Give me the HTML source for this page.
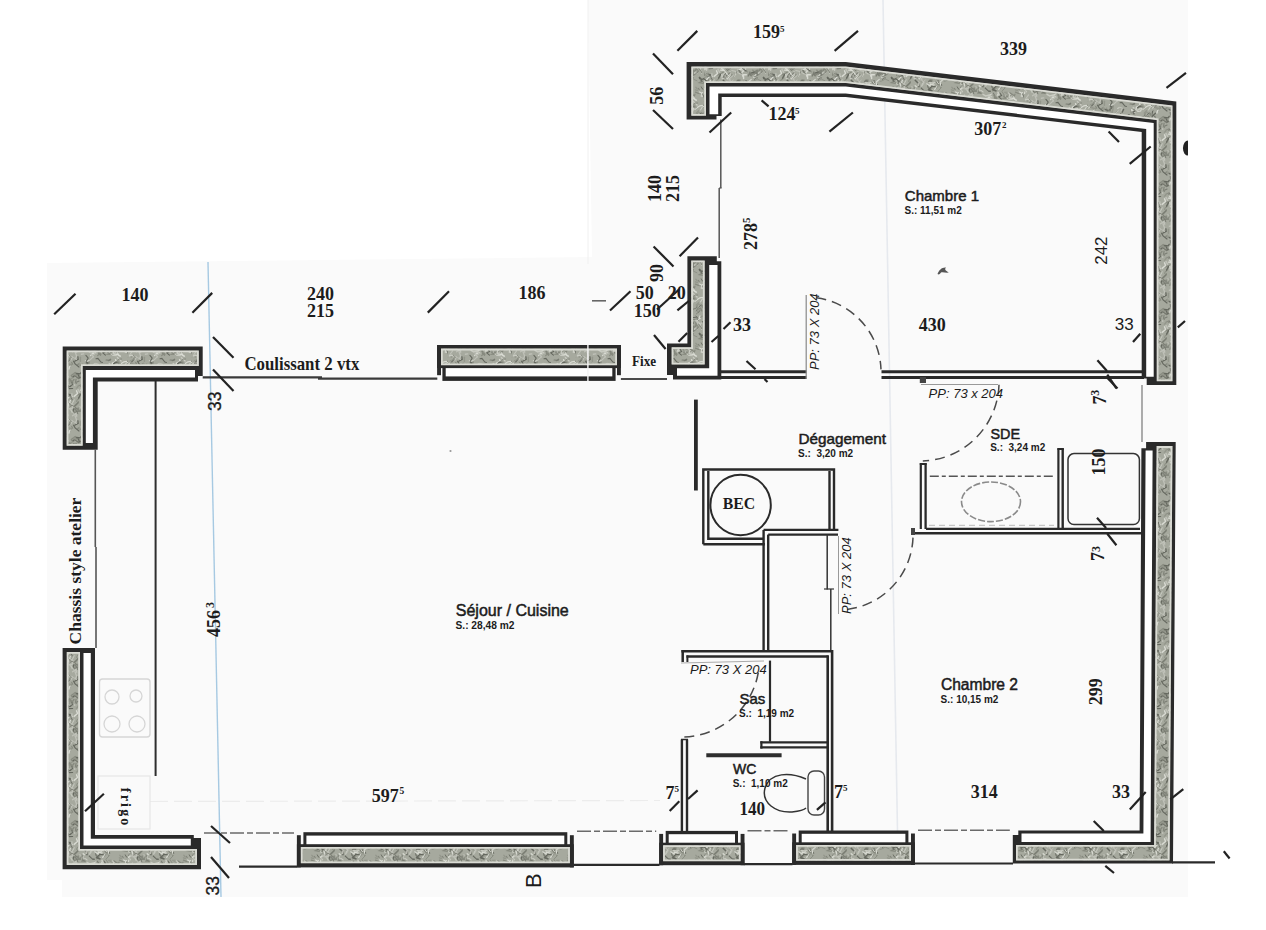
<!DOCTYPE html>
<html><head><meta charset="utf-8"><title>Plan</title>
<style>html,body{margin:0;padding:0;background:#fff;width:1266px;height:930px;overflow:hidden}svg{display:block;font-family:"Liberation Sans",sans-serif}</style>
</head><body>
<svg width="1266" height="930" viewBox="0 0 1266 930"><defs><pattern id="mot" patternUnits="userSpaceOnUse" width="64" height="64"><rect width="64" height="64" fill="#a6a99e"/><polyline points="19.4,8 15.8,10.5 12.5,11.2 15.8,8.9" fill="none" stroke="#878a7f" stroke-width="1.1" stroke-linecap="round"/><polyline points="2.6,4 -0.9,4.5 2.7,5.6" fill="none" stroke="#c9cbc2" stroke-width="1.5" stroke-linecap="round"/><polyline points="36.1,24.2 32.5,27" fill="none" stroke="#93968b" stroke-width="1.1" stroke-linecap="round"/><polyline points="33.7,35.7 36.2,33.1 36.9,34.2 35.8,34.6" fill="none" stroke="#878a7f" stroke-width="1.2" stroke-linecap="round"/><polyline points="38.9,30.8 38.3,29.3 39,28.9 37.4,31.3" fill="none" stroke="#d8dad2" stroke-width="1.3" stroke-linecap="round"/><polyline points="3.4,17.8 6.4,19.7 4.7,23.5" fill="none" stroke="#878a7f" stroke-width="1.2" stroke-linecap="round"/><polyline points="8.9,20.6 8.3,24.3 4.9,24.7" fill="none" stroke="#bfc1b8" stroke-width="1.4" stroke-linecap="round"/><polyline points="18.7,43.9 18.7,46.3 15.2,43 13.4,44.6" fill="none" stroke="#878a7f" stroke-width="0.8" stroke-linecap="round"/><polyline points="44.3,40.7 46.9,39 46,40.3 42.1,40" fill="none" stroke="#7a7d73" stroke-width="1.2" stroke-linecap="round"/><polyline points="30.6,12.4 27.6,10.4 26.7,13.4" fill="none" stroke="#878a7f" stroke-width="0.9" stroke-linecap="round"/><polyline points="24.5,16.3 27.1,19.2" fill="none" stroke="#93968b" stroke-width="1.3" stroke-linecap="round"/><polyline points="63.1,43.1 66.8,40.3 64.2,38.1" fill="none" stroke="#7a7d73" stroke-width="0.8" stroke-linecap="round"/><polyline points="52.9,10 48.9,9.4 47.8,9.9" fill="none" stroke="#7a7d73" stroke-width="1.3" stroke-linecap="round"/><polyline points="32,38.8 33.9,38.4 36.9,42 38.4,42.5" fill="none" stroke="#65685f" stroke-width="1.1" stroke-linecap="round"/><polyline points="4.8,39.9 2.4,43.7" fill="none" stroke="#65685f" stroke-width="0.9" stroke-linecap="round"/><polyline points="20.4,1.5 21,1.8" fill="none" stroke="#93968b" stroke-width="1.2" stroke-linecap="round"/><polyline points="2.6,11.7 -0.2,9.7 -1.4,8.7" fill="none" stroke="#878a7f" stroke-width="0.9" stroke-linecap="round"/><polyline points="30.2,62.5 30.1,59.2 26.9,58" fill="none" stroke="#93968b" stroke-width="1.1" stroke-linecap="round"/><polyline points="43.7,32.1 47.3,32.3" fill="none" stroke="#7a7d73" stroke-width="1.3" stroke-linecap="round"/><polyline points="58.3,48 62.2,50.9 63.7,49" fill="none" stroke="#93968b" stroke-width="1.4" stroke-linecap="round"/><polyline points="21.5,12.7 23.7,11.3 21.5,13.8 25.4,16.7" fill="none" stroke="#bfc1b8" stroke-width="1.0" stroke-linecap="round"/><polyline points="24.4,51 24.6,49.9" fill="none" stroke="#878a7f" stroke-width="1.5" stroke-linecap="round"/><polyline points="50.1,29.2 51.7,32.8" fill="none" stroke="#65685f" stroke-width="1.4" stroke-linecap="round"/><polyline points="45.7,21.1 42.4,17.9 42.1,16.6" fill="none" stroke="#65685f" stroke-width="1.2" stroke-linecap="round"/><polyline points="57.4,53.5 60.7,52.2 61.8,54.9" fill="none" stroke="#878a7f" stroke-width="1.4" stroke-linecap="round"/><polyline points="49.6,47.5 52.7,47 53.8,43.7" fill="none" stroke="#d8dad2" stroke-width="1.1" stroke-linecap="round"/><polyline points="24.5,60.5 21.8,64.4 18,65.2 17.7,66.4" fill="none" stroke="#c9cbc2" stroke-width="1.4" stroke-linecap="round"/><polyline points="62.7,41.4 59.9,41.8 56.1,44.2" fill="none" stroke="#d8dad2" stroke-width="1.3" stroke-linecap="round"/><polyline points="32.8,59.6 36.6,57.2 39.6,53.4" fill="none" stroke="#7a7d73" stroke-width="1.0" stroke-linecap="round"/><polyline points="13.9,36.7 14.2,39.4 10.7,41.3" fill="none" stroke="#65685f" stroke-width="1.3" stroke-linecap="round"/><polyline points="51.8,32.1 48.8,29.3 48.9,32.3 51.1,33.2" fill="none" stroke="#bfc1b8" stroke-width="1.4" stroke-linecap="round"/><polyline points="9.4,29.3 6.3,25.7 7.8,26 7.7,28.2" fill="none" stroke="#c9cbc2" stroke-width="0.8" stroke-linecap="round"/><polyline points="10.6,0.8 10.7,1.3" fill="none" stroke="#bfc1b8" stroke-width="1.4" stroke-linecap="round"/><polyline points="2.2,19.5 3,17.1 1.2,17.2 3.7,17.2" fill="none" stroke="#7a7d73" stroke-width="1.3" stroke-linecap="round"/><polyline points="55.9,60.2 59.2,63.3 56.9,62.9" fill="none" stroke="#65685f" stroke-width="0.9" stroke-linecap="round"/><polyline points="27.2,2.8 26.6,0.5" fill="none" stroke="#93968b" stroke-width="1.3" stroke-linecap="round"/><polyline points="57.2,8.2 58.4,7.1 56.4,4.2 56.1,6.2" fill="none" stroke="#878a7f" stroke-width="1.1" stroke-linecap="round"/><polyline points="30.2,63.3 27.5,62.8" fill="none" stroke="#c9cbc2" stroke-width="1.1" stroke-linecap="round"/><polyline points="25.8,21.5 27.6,17.7" fill="none" stroke="#c9cbc2" stroke-width="1.1" stroke-linecap="round"/><polyline points="44.4,23.4 45.4,23.5 41.9,27.3 44.2,31.1" fill="none" stroke="#878a7f" stroke-width="0.9" stroke-linecap="round"/><polyline points="15.9,57.8 14.1,54.8" fill="none" stroke="#65685f" stroke-width="1.4" stroke-linecap="round"/><polyline points="42.6,60.4 39.8,63.8 40.4,65.4" fill="none" stroke="#878a7f" stroke-width="1.0" stroke-linecap="round"/><polyline points="50.8,10.1 48.9,6.2" fill="none" stroke="#878a7f" stroke-width="1.4" stroke-linecap="round"/><polyline points="3.5,54.5 1.6,51.5" fill="none" stroke="#878a7f" stroke-width="1.0" stroke-linecap="round"/><polyline points="34.5,59.2 35.5,55.5 37.2,59" fill="none" stroke="#7a7d73" stroke-width="1.0" stroke-linecap="round"/><polyline points="10,59.5 8.4,61.6 6.7,61.6 4.1,60.4" fill="none" stroke="#878a7f" stroke-width="1.5" stroke-linecap="round"/><polyline points="0.4,-0.8 0.8,-3.3 0.6,0.2 -2.5,2.8" fill="none" stroke="#65685f" stroke-width="1.3" stroke-linecap="round"/><polyline points="34,56.7 32.5,54.4 30.3,52 33.4,53.8" fill="none" stroke="#7a7d73" stroke-width="1.1" stroke-linecap="round"/><polyline points="20.9,1.6 17.1,2.6" fill="none" stroke="#93968b" stroke-width="1.1" stroke-linecap="round"/><polyline points="1.7,41.9 4.6,43.3 2.9,41.2" fill="none" stroke="#93968b" stroke-width="0.8" stroke-linecap="round"/><polyline points="10.2,15.8 8.3,19.5" fill="none" stroke="#c9cbc2" stroke-width="1.0" stroke-linecap="round"/><polyline points="0.3,56.2 -0.9,52.2" fill="none" stroke="#65685f" stroke-width="0.9" stroke-linecap="round"/><polyline points="16.4,41.3 16.4,37.3" fill="none" stroke="#93968b" stroke-width="1.4" stroke-linecap="round"/><polyline points="7.5,36.7 3.7,35.2 1.5,35.8" fill="none" stroke="#c9cbc2" stroke-width="1.4" stroke-linecap="round"/><polyline points="8.2,56.9 7.4,55.5 11.2,52.7 13,53.9" fill="none" stroke="#878a7f" stroke-width="1.4" stroke-linecap="round"/><polyline points="45.2,31.9 47.1,34.4 44.2,34.5" fill="none" stroke="#c9cbc2" stroke-width="1.2" stroke-linecap="round"/><polyline points="51.7,-0.9 52.3,2.2 53.8,3.8 51.6,-0" fill="none" stroke="#7a7d73" stroke-width="1.2" stroke-linecap="round"/><polyline points="61.3,22.9 61.8,23.9 62.8,25.3" fill="none" stroke="#65685f" stroke-width="1.0" stroke-linecap="round"/><polyline points="28.2,2.6 31.3,-0.6 31.5,1.3 31.3,3.8" fill="none" stroke="#bfc1b8" stroke-width="1.0" stroke-linecap="round"/><polyline points="46.1,11.5 47.3,11.2 50.1,7.8 53.4,6.1" fill="none" stroke="#878a7f" stroke-width="1.2" stroke-linecap="round"/><polyline points="40.4,3.1 39.1,4.3" fill="none" stroke="#d8dad2" stroke-width="1.0" stroke-linecap="round"/><polyline points="35.5,-1.2 35.4,2.6" fill="none" stroke="#878a7f" stroke-width="1.3" stroke-linecap="round"/><polyline points="42.6,17.2 40.9,16.9 43,20.9 43.4,19.4" fill="none" stroke="#878a7f" stroke-width="1.5" stroke-linecap="round"/><polyline points="-0.8,28.3 2.9,27.9 1,25.6 4.6,23.3" fill="none" stroke="#c9cbc2" stroke-width="0.9" stroke-linecap="round"/><polyline points="47.3,15.3 44.4,17.8 44.5,20.9" fill="none" stroke="#d8dad2" stroke-width="1.1" stroke-linecap="round"/><polyline points="30.9,55.8 27.1,51.9 27,51.5" fill="none" stroke="#93968b" stroke-width="1.3" stroke-linecap="round"/><polyline points="25.5,22.8 28.2,18.8" fill="none" stroke="#bfc1b8" stroke-width="1.0" stroke-linecap="round"/><polyline points="24.3,60 26,63.2" fill="none" stroke="#93968b" stroke-width="1.0" stroke-linecap="round"/><polyline points="2.3,23.8 -1.1,27.2 0.9,30 -0.8,26.4" fill="none" stroke="#d8dad2" stroke-width="1.0" stroke-linecap="round"/><polyline points="59.7,14.5 59.2,13 61.4,15.3" fill="none" stroke="#65685f" stroke-width="1.4" stroke-linecap="round"/><polyline points="51.6,39.6 52,41.4 48.4,43.3 48,45.3" fill="none" stroke="#d8dad2" stroke-width="1.4" stroke-linecap="round"/><polyline points="30,58.2 27.1,58 25.8,56.3 27.7,60.2" fill="none" stroke="#93968b" stroke-width="1.1" stroke-linecap="round"/><polyline points="13.8,29.9 12.9,27.2 10.2,24.9 13.4,24.9" fill="none" stroke="#7a7d73" stroke-width="1.1" stroke-linecap="round"/><polyline points="20,48.1 17.1,45.6 13.8,44.4" fill="none" stroke="#878a7f" stroke-width="1.0" stroke-linecap="round"/><polyline points="22.3,51.4 25.4,53.4" fill="none" stroke="#65685f" stroke-width="1.1" stroke-linecap="round"/><polyline points="47.2,11.9 45.9,8.4 44.2,12.1" fill="none" stroke="#7a7d73" stroke-width="1.3" stroke-linecap="round"/><polyline points="32.9,50.2 29.7,53.3" fill="none" stroke="#65685f" stroke-width="1.1" stroke-linecap="round"/><polyline points="27.4,61 24.4,60.4" fill="none" stroke="#bfc1b8" stroke-width="1.4" stroke-linecap="round"/><polyline points="29.2,36.8 25.8,40.2" fill="none" stroke="#bfc1b8" stroke-width="1.2" stroke-linecap="round"/><polyline points="28.9,27.6 26.7,24.8" fill="none" stroke="#d8dad2" stroke-width="0.9" stroke-linecap="round"/><polyline points="52.5,44.3 49.2,46.5 45.2,43.5" fill="none" stroke="#c9cbc2" stroke-width="1.4" stroke-linecap="round"/><polyline points="40.6,18 41.6,18.3" fill="none" stroke="#65685f" stroke-width="1.3" stroke-linecap="round"/><polyline points="5.4,2.6 8.9,0.2 7,2.5 3,2.8" fill="none" stroke="#65685f" stroke-width="1.0" stroke-linecap="round"/><polyline points="18.9,53.4 18.7,51.3" fill="none" stroke="#7a7d73" stroke-width="0.8" stroke-linecap="round"/><polyline points="25.2,40.9 21.4,40.9" fill="none" stroke="#d8dad2" stroke-width="1.3" stroke-linecap="round"/><polyline points="3.4,13 6.8,10.9 3,9.6" fill="none" stroke="#65685f" stroke-width="1.1" stroke-linecap="round"/><polyline points="24.2,-1.6 26.1,-1.5 23.7,2.2" fill="none" stroke="#93968b" stroke-width="1.3" stroke-linecap="round"/><polyline points="10.8,28.7 12.9,27.1 16.5,27" fill="none" stroke="#7a7d73" stroke-width="1.4" stroke-linecap="round"/><polyline points="30,58.1 33.6,55.3" fill="none" stroke="#65685f" stroke-width="0.8" stroke-linecap="round"/><polyline points="-0.4,37.3 -4,33.8 -4.9,37" fill="none" stroke="#93968b" stroke-width="1.3" stroke-linecap="round"/><polyline points="63.8,59.5 61.4,60.7 61.6,60.4" fill="none" stroke="#93968b" stroke-width="1.3" stroke-linecap="round"/><polyline points="23,22.7 22.5,19.5 19.2,16.2" fill="none" stroke="#65685f" stroke-width="1.5" stroke-linecap="round"/><polyline points="6.2,61.6 5.2,63.8" fill="none" stroke="#93968b" stroke-width="1.4" stroke-linecap="round"/><polyline points="26.5,1.3 24.1,1.6 23.7,0.2" fill="none" stroke="#d8dad2" stroke-width="1.4" stroke-linecap="round"/><polyline points="-0,25.1 2.1,21.4 -1.6,17.9 1.8,16" fill="none" stroke="#d8dad2" stroke-width="0.8" stroke-linecap="round"/><polyline points="38,22 41.6,22.9 39.7,24.6" fill="none" stroke="#93968b" stroke-width="1.4" stroke-linecap="round"/><polyline points="17.6,45.6 21,46.7 24.5,42.9 22.4,42.7" fill="none" stroke="#65685f" stroke-width="1.5" stroke-linecap="round"/><polyline points="23.5,14.6 26,11.6 26,7.7" fill="none" stroke="#d8dad2" stroke-width="1.0" stroke-linecap="round"/><polyline points="43.7,8 42.3,6.5" fill="none" stroke="#93968b" stroke-width="1.3" stroke-linecap="round"/><polyline points="37.3,31.8 39.3,29.8 35.9,26" fill="none" stroke="#c9cbc2" stroke-width="1.2" stroke-linecap="round"/><polyline points="8.6,26.2 12.5,24.3" fill="none" stroke="#878a7f" stroke-width="0.9" stroke-linecap="round"/><polyline points="25.8,63.2 23.2,60.3 22.9,63.4" fill="none" stroke="#7a7d73" stroke-width="1.3" stroke-linecap="round"/><polyline points="53.9,41.9 56.1,40.2" fill="none" stroke="#93968b" stroke-width="1.2" stroke-linecap="round"/><polyline points="22.6,46.7 22.1,44.2" fill="none" stroke="#7a7d73" stroke-width="0.9" stroke-linecap="round"/><polyline points="56.4,36.2 52.9,34.2 50.8,34.4" fill="none" stroke="#d8dad2" stroke-width="1.4" stroke-linecap="round"/><polyline points="41.1,63.4 37.2,66.5" fill="none" stroke="#7a7d73" stroke-width="1.4" stroke-linecap="round"/><polyline points="58.3,0.7 56.2,-2.9 57,-0.3" fill="none" stroke="#7a7d73" stroke-width="1.5" stroke-linecap="round"/><polyline points="22.6,55.2 23.4,57.4 24.7,53.4" fill="none" stroke="#d8dad2" stroke-width="1.2" stroke-linecap="round"/><polyline points="38.9,12.4 37.6,8.7 41.6,5" fill="none" stroke="#d8dad2" stroke-width="1.3" stroke-linecap="round"/><polyline points="11.4,-1.2 10.7,-2.3 11.7,-5.7" fill="none" stroke="#878a7f" stroke-width="1.4" stroke-linecap="round"/><polyline points="34.2,2.2 36.5,3.5" fill="none" stroke="#7a7d73" stroke-width="1.2" stroke-linecap="round"/><polyline points="4,8.8 2.2,12.7 3.5,12.1 -0.1,14" fill="none" stroke="#93968b" stroke-width="1.1" stroke-linecap="round"/><polyline points="-0.8,48.6 0.4,47.7 -0.4,51.3" fill="none" stroke="#65685f" stroke-width="1.4" stroke-linecap="round"/><polyline points="26,52.1 26.6,51.1 28.8,48.1" fill="none" stroke="#878a7f" stroke-width="1.2" stroke-linecap="round"/><polyline points="40.3,58 40.9,61.5" fill="none" stroke="#d8dad2" stroke-width="1.2" stroke-linecap="round"/><polyline points="7.6,16.7 5,13.2 4.1,15.3 6.4,17.7" fill="none" stroke="#93968b" stroke-width="0.9" stroke-linecap="round"/><polyline points="60.2,62.4 58.8,63.2 59.9,59.9" fill="none" stroke="#d8dad2" stroke-width="1.2" stroke-linecap="round"/><polyline points="52.4,8.6 53.4,9.5" fill="none" stroke="#7a7d73" stroke-width="1.4" stroke-linecap="round"/><polyline points="10.1,12.4 13.6,9.6 12.5,6.8" fill="none" stroke="#d8dad2" stroke-width="1.4" stroke-linecap="round"/><polyline points="10.7,56.3 7,59 4,59.8 4.4,60.9" fill="none" stroke="#93968b" stroke-width="1.3" stroke-linecap="round"/><polyline points="18.3,14.5 19.6,14 19.1,10.2" fill="none" stroke="#c9cbc2" stroke-width="1.5" stroke-linecap="round"/><polyline points="28.7,27.5 30.9,27.2 28.4,26.9 25.2,24" fill="none" stroke="#65685f" stroke-width="1.1" stroke-linecap="round"/><polyline points="51,31.3 47.3,32.4 43.9,34.2 46.2,34.3" fill="none" stroke="#878a7f" stroke-width="1.3" stroke-linecap="round"/><polyline points="57.1,41.1 53.3,37.6" fill="none" stroke="#c9cbc2" stroke-width="1.3" stroke-linecap="round"/><polyline points="51.8,10.8 50.1,13.3 52.5,14.8" fill="none" stroke="#d8dad2" stroke-width="1.5" stroke-linecap="round"/><polyline points="2.3,21.2 -0.4,24.3 -2.2,26.9" fill="none" stroke="#7a7d73" stroke-width="1.0" stroke-linecap="round"/><polyline points="61.6,29.7 59.7,29.7 58.3,26 55.8,23.3" fill="none" stroke="#93968b" stroke-width="1.3" stroke-linecap="round"/><polyline points="57.1,9.1 54,9.4 55.1,8.3" fill="none" stroke="#bfc1b8" stroke-width="1.1" stroke-linecap="round"/><polyline points="32.4,43.5 30.4,43.7" fill="none" stroke="#bfc1b8" stroke-width="1.1" stroke-linecap="round"/><polyline points="50.6,15.5 51.3,14.4 53.4,13.9" fill="none" stroke="#7a7d73" stroke-width="1.2" stroke-linecap="round"/><polyline points="61.2,17.6 59.3,18.7 63.1,19.4 64.4,17.9" fill="none" stroke="#878a7f" stroke-width="1.3" stroke-linecap="round"/><polyline points="12.6,17.2 12.1,17.3 15.3,14.4 13.1,15.6" fill="none" stroke="#878a7f" stroke-width="0.8" stroke-linecap="round"/><polyline points="35.4,18 34.3,15.8 35,16.6 32.6,17.5" fill="none" stroke="#65685f" stroke-width="0.9" stroke-linecap="round"/><polyline points="-1.1,50.9 -3.9,47.7 -2.8,50.6 -0.5,49.9" fill="none" stroke="#93968b" stroke-width="1.5" stroke-linecap="round"/><polyline points="1.7,52.2 2.5,52.8 3.3,52.9" fill="none" stroke="#65685f" stroke-width="1.0" stroke-linecap="round"/><polyline points="57.6,0.9 53.8,-1.6 51.1,1.7 47.9,2.6" fill="none" stroke="#d8dad2" stroke-width="1.5" stroke-linecap="round"/><polyline points="7.4,11.2 8.5,12.3 7.9,13.3 7.9,9.8" fill="none" stroke="#d8dad2" stroke-width="0.8" stroke-linecap="round"/><polyline points="56.7,49.7 57,48.7 56.5,52 53.1,53.2" fill="none" stroke="#7a7d73" stroke-width="1.0" stroke-linecap="round"/><polyline points="4.9,13.3 1.9,16.5" fill="none" stroke="#d8dad2" stroke-width="1.5" stroke-linecap="round"/><polyline points="15.4,1.5 15.8,1 18.1,1.1 16.2,2.3" fill="none" stroke="#7a7d73" stroke-width="0.9" stroke-linecap="round"/><polyline points="31.5,9.2 34.2,6.8" fill="none" stroke="#7a7d73" stroke-width="1.3" stroke-linecap="round"/><polyline points="19.6,56.1 20.4,55.1 23.2,58.5" fill="none" stroke="#d8dad2" stroke-width="1.4" stroke-linecap="round"/><polyline points="33.4,29.2 35,32 34.5,33.8 35,32.3" fill="none" stroke="#7a7d73" stroke-width="1.1" stroke-linecap="round"/><polyline points="36.6,35.3 33.8,31.5" fill="none" stroke="#878a7f" stroke-width="1.2" stroke-linecap="round"/><polyline points="8.7,62.5 4.9,58.8 6.5,59.9 8,61.8" fill="none" stroke="#878a7f" stroke-width="1.4" stroke-linecap="round"/><polyline points="48.3,11.2 51.4,7.7 54.3,11 57.9,7.9" fill="none" stroke="#7a7d73" stroke-width="0.9" stroke-linecap="round"/><polyline points="0.2,60.7 -3.1,62.7 -2,62.5 -4.9,64.8" fill="none" stroke="#d8dad2" stroke-width="0.9" stroke-linecap="round"/><polyline points="19.1,26 17.9,29.4" fill="none" stroke="#878a7f" stroke-width="1.3" stroke-linecap="round"/><polyline points="22.3,19.2 22.3,22 23.3,18.2 22.6,17.7" fill="none" stroke="#bfc1b8" stroke-width="0.9" stroke-linecap="round"/><polyline points="29,1.2 26.7,4.1 23.4,6.6 20.8,2.6" fill="none" stroke="#7a7d73" stroke-width="1.0" stroke-linecap="round"/><polyline points="47.5,1.6 47.5,1.5 49.8,-1" fill="none" stroke="#65685f" stroke-width="1.2" stroke-linecap="round"/><polyline points="61.2,32 64.7,30.3 62.4,31.9 62.4,28.7" fill="none" stroke="#d8dad2" stroke-width="1.3" stroke-linecap="round"/><polyline points="30.4,63.4 32.7,64.4 31.5,63.6 30.7,66.8" fill="none" stroke="#878a7f" stroke-width="1.1" stroke-linecap="round"/><polyline points="40.6,22.5 38.7,25.8 38.7,24.8" fill="none" stroke="#d8dad2" stroke-width="1.0" stroke-linecap="round"/><polyline points="28.4,33.1 30.4,34.3 29.2,32.9 26.5,35.6" fill="none" stroke="#d8dad2" stroke-width="1.2" stroke-linecap="round"/><polyline points="19.3,28.6 21.5,29.2 18.5,28.9 21.6,26.8" fill="none" stroke="#7a7d73" stroke-width="1.0" stroke-linecap="round"/><polyline points="47.8,52.6 45,49.8 43,48.4 43.2,45.7" fill="none" stroke="#93968b" stroke-width="1.5" stroke-linecap="round"/><polyline points="15.1,61 12.4,62.3" fill="none" stroke="#7a7d73" stroke-width="1.1" stroke-linecap="round"/><polyline points="62.9,50.5 61.3,48.7 58.2,51.9 56.4,55" fill="none" stroke="#65685f" stroke-width="0.8" stroke-linecap="round"/><polyline points="24.3,50.2 22.1,54.1 20.5,50.2 18.5,52.1" fill="none" stroke="#878a7f" stroke-width="1.3" stroke-linecap="round"/><polyline points="57.9,26.4 58.6,27.6 61.4,28.9 62.6,31.9" fill="none" stroke="#d8dad2" stroke-width="1.3" stroke-linecap="round"/><polyline points="54.3,42.9 51.3,42.3 49.3,43.9 52.5,41.9" fill="none" stroke="#65685f" stroke-width="1.3" stroke-linecap="round"/><polyline points="39.6,14.5 39.4,10.7 42.3,10.8" fill="none" stroke="#d8dad2" stroke-width="1.5" stroke-linecap="round"/><polyline points="10.1,41.2 9.2,41.1" fill="none" stroke="#878a7f" stroke-width="0.8" stroke-linecap="round"/><polyline points="33.9,8.6 34,5.4" fill="none" stroke="#c9cbc2" stroke-width="1.1" stroke-linecap="round"/><polyline points="11.5,29.4 12.6,32" fill="none" stroke="#c9cbc2" stroke-width="1.0" stroke-linecap="round"/><polyline points="47,28.2 44.4,28.3 47.9,30.1 48.8,31.2" fill="none" stroke="#93968b" stroke-width="1.0" stroke-linecap="round"/><polyline points="24.4,-1.1 27.7,-0.1 29.1,0.5" fill="none" stroke="#878a7f" stroke-width="1.0" stroke-linecap="round"/><polyline points="46.9,60 50.7,64 54.4,63.7 51.7,67.1" fill="none" stroke="#878a7f" stroke-width="1.4" stroke-linecap="round"/><polyline points="39.9,29 41.6,31.5 38.8,32.8 41.4,35.2" fill="none" stroke="#65685f" stroke-width="1.1" stroke-linecap="round"/><polyline points="17.4,34.2 19.7,33.9" fill="none" stroke="#bfc1b8" stroke-width="1.4" stroke-linecap="round"/><polyline points="15.7,22.8 19.5,24.3 19.4,26.7" fill="none" stroke="#bfc1b8" stroke-width="1.0" stroke-linecap="round"/><polyline points="14.2,17.9 14,18.9 10.7,22.1" fill="none" stroke="#7a7d73" stroke-width="1.5" stroke-linecap="round"/><polyline points="54.4,1.8 57.6,4 54.8,6.7 55.8,2.8" fill="none" stroke="#878a7f" stroke-width="0.9" stroke-linecap="round"/><polyline points="2.8,17.3 -0.4,14.5 -2.6,16.7 -3.8,13.9" fill="none" stroke="#65685f" stroke-width="1.4" stroke-linecap="round"/><polyline points="9.1,56.8 12.9,53.5 16.1,53.9 17.2,52.3" fill="none" stroke="#65685f" stroke-width="1.3" stroke-linecap="round"/><polyline points="33,47 34.4,43.9 31.3,43.3" fill="none" stroke="#bfc1b8" stroke-width="0.9" stroke-linecap="round"/><polyline points="30.5,1.9 33.8,3.5 31.8,0.8" fill="none" stroke="#c9cbc2" stroke-width="1.4" stroke-linecap="round"/><polyline points="-1.6,53.5 0,53.5 -1.6,53.2" fill="none" stroke="#65685f" stroke-width="1.1" stroke-linecap="round"/><polyline points="61.4,3 60.3,4.1 56.4,0.5 58.3,4.5" fill="none" stroke="#bfc1b8" stroke-width="1.5" stroke-linecap="round"/><polyline points="31.7,30 28,31.7" fill="none" stroke="#d8dad2" stroke-width="0.9" stroke-linecap="round"/><polyline points="4.2,41.5 4,41.7 6.2,39.4" fill="none" stroke="#65685f" stroke-width="1.0" stroke-linecap="round"/><polyline points="14.6,1.5 12.9,4.1 12.2,4.1" fill="none" stroke="#93968b" stroke-width="1.4" stroke-linecap="round"/><polyline points="20.8,11.4 23.1,10.1 21.6,8.5" fill="none" stroke="#c9cbc2" stroke-width="1.5" stroke-linecap="round"/><polyline points="3.8,63.8 5.6,66.9 5.9,63.3" fill="none" stroke="#93968b" stroke-width="0.9" stroke-linecap="round"/><polyline points="1.1,52.2 1.9,53.5 4.2,56.8" fill="none" stroke="#c9cbc2" stroke-width="1.1" stroke-linecap="round"/><polyline points="7.7,42.5 8.5,43.9 6.2,45.2 5.8,47.3" fill="none" stroke="#878a7f" stroke-width="1.3" stroke-linecap="round"/><polyline points="55.4,25.8 58.7,27.1" fill="none" stroke="#93968b" stroke-width="1.4" stroke-linecap="round"/><polyline points="7.2,18.4 5.2,16.8 4.6,15.4 4,16.5" fill="none" stroke="#878a7f" stroke-width="1.1" stroke-linecap="round"/><polyline points="32.5,52.4 33.1,55.8 32.6,51.9" fill="none" stroke="#65685f" stroke-width="1.2" stroke-linecap="round"/><polyline points="63.5,41.5 63.3,40.8" fill="none" stroke="#878a7f" stroke-width="0.9" stroke-linecap="round"/><polyline points="29.2,57.1 25.3,53.2 26.8,50.1 30.5,46.8" fill="none" stroke="#bfc1b8" stroke-width="0.9" stroke-linecap="round"/><polyline points="29.2,16.2 27.1,18 24.6,14.4 26.8,16.2" fill="none" stroke="#bfc1b8" stroke-width="0.9" stroke-linecap="round"/><polyline points="48.1,17.3 49.8,17 53.2,15.1 57,16.8" fill="none" stroke="#878a7f" stroke-width="0.8" stroke-linecap="round"/><polyline points="56.3,43.3 52.9,41.8 54.8,39.1 57.7,39" fill="none" stroke="#878a7f" stroke-width="1.0" stroke-linecap="round"/><polyline points="60.6,46 62,43.2 64.4,42.1" fill="none" stroke="#d8dad2" stroke-width="0.9" stroke-linecap="round"/><polyline points="50.9,29.5 54.5,31.8 55,30.1" fill="none" stroke="#878a7f" stroke-width="1.2" stroke-linecap="round"/><polyline points="41,50.9 39.6,51.8 43.4,54.4 44.2,52.9" fill="none" stroke="#65685f" stroke-width="1.5" stroke-linecap="round"/><polyline points="14.2,23.6 15.1,26.7 17.5,25" fill="none" stroke="#878a7f" stroke-width="1.0" stroke-linecap="round"/><polyline points="15.7,8.4 14,5.5" fill="none" stroke="#bfc1b8" stroke-width="1.5" stroke-linecap="round"/><polyline points="7.7,62.4 9.2,65.7 8,62.4 8.4,64.7" fill="none" stroke="#7a7d73" stroke-width="1.4" stroke-linecap="round"/><polyline points="45.7,62.8 46.5,64.3 46.2,61.9" fill="none" stroke="#93968b" stroke-width="1.2" stroke-linecap="round"/><polyline points="-1.4,23.4 -4.7,25.9 -2.5,23.7 -1.9,26.9" fill="none" stroke="#bfc1b8" stroke-width="1.2" stroke-linecap="round"/><polyline points="29.5,36.9 27.2,33.6" fill="none" stroke="#bfc1b8" stroke-width="1.3" stroke-linecap="round"/><polyline points="21.9,35.3 24.2,38.1 22.2,41.5" fill="none" stroke="#65685f" stroke-width="1.1" stroke-linecap="round"/><polyline points="5,39.8 2.3,40.5" fill="none" stroke="#93968b" stroke-width="1.0" stroke-linecap="round"/><polyline points="38.1,4.2 42,7.1" fill="none" stroke="#65685f" stroke-width="1.2" stroke-linecap="round"/><polyline points="12.1,59.1 11.5,62.7 13.6,65.2" fill="none" stroke="#7a7d73" stroke-width="1.0" stroke-linecap="round"/><polyline points="0.5,11.3 -0.5,7.5" fill="none" stroke="#878a7f" stroke-width="1.2" stroke-linecap="round"/><polyline points="55.5,28.2 58.4,29.4" fill="none" stroke="#878a7f" stroke-width="1.3" stroke-linecap="round"/><polyline points="3.9,19 5.1,22.7" fill="none" stroke="#d8dad2" stroke-width="1.2" stroke-linecap="round"/><polyline points="10.1,54.1 13.8,58 11.6,54.3" fill="none" stroke="#93968b" stroke-width="1.5" stroke-linecap="round"/><polyline points="1.9,34.5 4.6,30.9" fill="none" stroke="#bfc1b8" stroke-width="1.2" stroke-linecap="round"/><polyline points="46.8,48.3 43.3,45.4 45.3,48.9" fill="none" stroke="#d8dad2" stroke-width="1.3" stroke-linecap="round"/><polyline points="36.9,27.1 33.8,25.7 31.8,22.7 31.7,20.1" fill="none" stroke="#7a7d73" stroke-width="1.4" stroke-linecap="round"/><polyline points="58.3,56.9 60.1,54.4 56.4,57.9" fill="none" stroke="#7a7d73" stroke-width="0.9" stroke-linecap="round"/><polyline points="38.8,22.6 35.9,22.2 32.7,25.6 35.5,26.7" fill="none" stroke="#65685f" stroke-width="1.5" stroke-linecap="round"/><polyline points="19.3,13.4 20.3,10.6" fill="none" stroke="#7a7d73" stroke-width="1.3" stroke-linecap="round"/><polyline points="9.9,27.8 9.4,25" fill="none" stroke="#65685f" stroke-width="1.1" stroke-linecap="round"/><polyline points="8.3,15.9 7,13.2 6.9,11.8" fill="none" stroke="#65685f" stroke-width="0.9" stroke-linecap="round"/><polyline points="62.6,1.8 66,2.2 68.7,-0.8 70.7,3" fill="none" stroke="#65685f" stroke-width="1.5" stroke-linecap="round"/><polyline points="63.9,59.1 63,58.4" fill="none" stroke="#7a7d73" stroke-width="0.8" stroke-linecap="round"/><polyline points="45.9,17.4 42.1,19.8 40.8,16.9 36.8,19.6" fill="none" stroke="#c9cbc2" stroke-width="1.0" stroke-linecap="round"/><polyline points="21.8,0.7 19.5,1.2 16.6,-1.3" fill="none" stroke="#bfc1b8" stroke-width="1.0" stroke-linecap="round"/><polyline points="9.6,37.6 12.7,39.5" fill="none" stroke="#bfc1b8" stroke-width="1.0" stroke-linecap="round"/><polyline points="11.6,38.4 12.6,36 11.1,32 12.6,32.2" fill="none" stroke="#bfc1b8" stroke-width="1.3" stroke-linecap="round"/><polyline points="1.7,51.5 -0.1,52.6 3.5,49.3" fill="none" stroke="#65685f" stroke-width="1.4" stroke-linecap="round"/><polyline points="29.5,55.6 27.4,56.1 31.3,52.4" fill="none" stroke="#d8dad2" stroke-width="1.1" stroke-linecap="round"/><polyline points="37.3,-1.7 40.7,2.1 37.3,0.9 35.2,3.6" fill="none" stroke="#93968b" stroke-width="1.3" stroke-linecap="round"/><polyline points="55.3,36 53.6,32.9" fill="none" stroke="#d8dad2" stroke-width="1.1" stroke-linecap="round"/><polyline points="31.9,33 29,31 25.7,31.9 23,30.4" fill="none" stroke="#c9cbc2" stroke-width="1.4" stroke-linecap="round"/><polyline points="-0,4.4 1.9,2.5 4.6,3.6 4.3,1.5" fill="none" stroke="#65685f" stroke-width="0.9" stroke-linecap="round"/><polyline points="55.4,45.3 53.6,45" fill="none" stroke="#c9cbc2" stroke-width="1.2" stroke-linecap="round"/><polyline points="16.5,6.1 19.5,6.4 17.4,4.2" fill="none" stroke="#d8dad2" stroke-width="1.2" stroke-linecap="round"/><polyline points="47.3,8.8 50.8,8" fill="none" stroke="#65685f" stroke-width="1.2" stroke-linecap="round"/><polyline points="37.8,0.4 40,-0.9" fill="none" stroke="#7a7d73" stroke-width="1.4" stroke-linecap="round"/><polyline points="45.2,53.6 47.7,56.9 50.2,59.7 46.6,59.9" fill="none" stroke="#d8dad2" stroke-width="1.5" stroke-linecap="round"/><polyline points="14.5,25.9 10.5,22.7 8,21.3 5.7,22.7" fill="none" stroke="#7a7d73" stroke-width="0.9" stroke-linecap="round"/><polyline points="62,49.3 63.1,51.7 66.1,54.8" fill="none" stroke="#878a7f" stroke-width="1.4" stroke-linecap="round"/><polyline points="39,58.6 37.2,58.9 40.6,59.9 38.6,60.1" fill="none" stroke="#65685f" stroke-width="1.0" stroke-linecap="round"/><polyline points="0.6,5.5 1.8,2.4 2.5,6.1" fill="none" stroke="#c9cbc2" stroke-width="1.4" stroke-linecap="round"/><polyline points="3.6,37 3.1,37" fill="none" stroke="#93968b" stroke-width="1.4" stroke-linecap="round"/><polyline points="36.1,16.1 32.8,16.5 35.5,17.3 36.1,18.5" fill="none" stroke="#7a7d73" stroke-width="1.2" stroke-linecap="round"/><polyline points="22.2,56.9 23.1,56.6 21.6,54.5" fill="none" stroke="#7a7d73" stroke-width="0.9" stroke-linecap="round"/><polyline points="34,62 30.1,60.8 33,58.7" fill="none" stroke="#c9cbc2" stroke-width="1.0" stroke-linecap="round"/><polyline points="15.8,56 14.2,58.1" fill="none" stroke="#7a7d73" stroke-width="1.2" stroke-linecap="round"/><polyline points="38,21 34.5,20.1 34,22 30.9,19.8" fill="none" stroke="#d8dad2" stroke-width="1.3" stroke-linecap="round"/><polyline points="8.2,20.2 5.3,17.9 6.2,16.1" fill="none" stroke="#bfc1b8" stroke-width="1.2" stroke-linecap="round"/><polyline points="46.8,47.1 44.9,48.1 46,49.7" fill="none" stroke="#65685f" stroke-width="1.4" stroke-linecap="round"/><polyline points="-1.7,48.5 -4.8,47.7 -0.8,44.9 2,43.1" fill="none" stroke="#c9cbc2" stroke-width="1.2" stroke-linecap="round"/><polyline points="23.1,27.9 21.4,26.7 20.2,26.9" fill="none" stroke="#c9cbc2" stroke-width="1.1" stroke-linecap="round"/><polyline points="19.3,49.9 18.3,48.3 18.6,50.8" fill="none" stroke="#65685f" stroke-width="1.2" stroke-linecap="round"/><polyline points="36.4,3.8 35,6.6 37.7,10.2" fill="none" stroke="#7a7d73" stroke-width="1.5" stroke-linecap="round"/><polyline points="56.8,61.1 53.2,61.6" fill="none" stroke="#65685f" stroke-width="1.0" stroke-linecap="round"/><polyline points="33.4,18.6 37.4,18.8 37.5,20.2 36.6,19.1" fill="none" stroke="#c9cbc2" stroke-width="1.3" stroke-linecap="round"/><polyline points="27.9,-1.3 28.1,-4.5" fill="none" stroke="#93968b" stroke-width="1.2" stroke-linecap="round"/><polyline points="40.8,59.3 43.8,63" fill="none" stroke="#65685f" stroke-width="1.1" stroke-linecap="round"/><polyline points="48.6,57.3 47.4,57.6 49.9,55 48.5,58.8" fill="none" stroke="#bfc1b8" stroke-width="1.0" stroke-linecap="round"/><polyline points="9.6,41.3 11.1,43.9 15,47" fill="none" stroke="#65685f" stroke-width="1.2" stroke-linecap="round"/><polyline points="32.6,51.9 32.6,49.4" fill="none" stroke="#7a7d73" stroke-width="0.8" stroke-linecap="round"/><polyline points="35.3,5 39.2,6.1 35.6,5.4 37.9,3.9" fill="none" stroke="#d8dad2" stroke-width="1.2" stroke-linecap="round"/><polyline points="58.5,24.2 59.2,25.6" fill="none" stroke="#7a7d73" stroke-width="0.9" stroke-linecap="round"/><polyline points="48.8,35.4 51.9,35.5 49.1,33.1 49.9,30.3" fill="none" stroke="#c9cbc2" stroke-width="1.3" stroke-linecap="round"/><polyline points="5,4.6 8.6,4.5" fill="none" stroke="#65685f" stroke-width="1.2" stroke-linecap="round"/><polyline points="51.2,2.1 52.7,2.7" fill="none" stroke="#7a7d73" stroke-width="1.3" stroke-linecap="round"/><polyline points="21.4,9.2 22.4,12.1 26,8.6" fill="none" stroke="#7a7d73" stroke-width="1.1" stroke-linecap="round"/><polyline points="23.5,1.6 24.1,5.3 23.6,6.2" fill="none" stroke="#7a7d73" stroke-width="1.0" stroke-linecap="round"/><polyline points="8.5,36.7 7,39.9" fill="none" stroke="#bfc1b8" stroke-width="1.1" stroke-linecap="round"/><polyline points="25.6,14.6 29.4,11.2 30.9,12.6" fill="none" stroke="#c9cbc2" stroke-width="1.0" stroke-linecap="round"/><polyline points="18.4,55.8 14.6,58.7 11.3,56.1" fill="none" stroke="#65685f" stroke-width="0.9" stroke-linecap="round"/><polyline points="62.1,17.2 61,15.9 64,14.6 65.2,18.2" fill="none" stroke="#65685f" stroke-width="1.4" stroke-linecap="round"/><polyline points="21.2,14.2 20.9,12.9" fill="none" stroke="#65685f" stroke-width="0.8" stroke-linecap="round"/><polyline points="41.8,20.5 39.8,17.6" fill="none" stroke="#7a7d73" stroke-width="1.0" stroke-linecap="round"/><polyline points="53.1,6.4 52.8,8.8 50.8,7.7" fill="none" stroke="#7a7d73" stroke-width="1.3" stroke-linecap="round"/><polyline points="22.9,61.3 21.3,61.1" fill="none" stroke="#7a7d73" stroke-width="1.0" stroke-linecap="round"/><polyline points="27.9,6.6 31.9,7.4 31.4,11.3 31.7,10.6" fill="none" stroke="#c9cbc2" stroke-width="0.9" stroke-linecap="round"/><polyline points="55.6,6.1 52.3,8.9 54.2,11 50.4,12.8" fill="none" stroke="#7a7d73" stroke-width="1.0" stroke-linecap="round"/><polyline points="23.7,3.7 25.9,1.5" fill="none" stroke="#7a7d73" stroke-width="1.3" stroke-linecap="round"/><polyline points="5.2,35.1 7.6,37.2 5.2,38.9" fill="none" stroke="#878a7f" stroke-width="1.0" stroke-linecap="round"/><polyline points="6.3,45.3 5.2,48.1 4.9,49.1" fill="none" stroke="#d8dad2" stroke-width="1.4" stroke-linecap="round"/><polyline points="6.7,16.3 5.7,18.6" fill="none" stroke="#d8dad2" stroke-width="1.0" stroke-linecap="round"/><polyline points="25.2,41.5 24.9,45.5 24.1,48.7 20.9,47.1" fill="none" stroke="#93968b" stroke-width="1.4" stroke-linecap="round"/><polyline points="46.4,45 45.7,45.9" fill="none" stroke="#65685f" stroke-width="0.9" stroke-linecap="round"/><polyline points="18,23.1 18.4,24.2" fill="none" stroke="#7a7d73" stroke-width="1.2" stroke-linecap="round"/><polyline points="13,30.9 11.1,30.3 12.5,29.1 8.5,31.8" fill="none" stroke="#bfc1b8" stroke-width="1.3" stroke-linecap="round"/><polyline points="57.5,55.8 58.3,52.1 56.3,49 58.6,46.7" fill="none" stroke="#93968b" stroke-width="1.3" stroke-linecap="round"/><polyline points="3.7,43.8 7.7,44.8 5.4,45" fill="none" stroke="#93968b" stroke-width="1.5" stroke-linecap="round"/><polyline points="26,59.4 26,60.9 28.7,61.9 28.8,63.3" fill="none" stroke="#7a7d73" stroke-width="1.1" stroke-linecap="round"/><polyline points="31.8,59.3 31.7,56.8" fill="none" stroke="#d8dad2" stroke-width="1.4" stroke-linecap="round"/><polyline points="34.9,9.5 38.7,10.6" fill="none" stroke="#c9cbc2" stroke-width="1.0" stroke-linecap="round"/><polyline points="61.6,9.1 60.9,6.7 59.4,3.8" fill="none" stroke="#d8dad2" stroke-width="1.1" stroke-linecap="round"/><polyline points="29.9,44.6 30,44.1" fill="none" stroke="#d8dad2" stroke-width="1.0" stroke-linecap="round"/><polyline points="17.8,56.4 18.5,54.3" fill="none" stroke="#d8dad2" stroke-width="1.4" stroke-linecap="round"/><polyline points="34.2,48.2 35.6,45.4" fill="none" stroke="#65685f" stroke-width="1.4" stroke-linecap="round"/><polyline points="24.8,11.6 23.1,10.5 20.8,7 19,4.6" fill="none" stroke="#d8dad2" stroke-width="1.0" stroke-linecap="round"/><polyline points="61.6,8.6 61.3,7.6 58.6,4.1" fill="none" stroke="#878a7f" stroke-width="1.1" stroke-linecap="round"/><polyline points="62.7,30 64.4,33.9 64.9,30.8 64.8,30.2" fill="none" stroke="#7a7d73" stroke-width="1.3" stroke-linecap="round"/><polyline points="19.2,21.7 20.4,22.7" fill="none" stroke="#d8dad2" stroke-width="1.3" stroke-linecap="round"/><polyline points="14.6,14.2 16.6,10.4" fill="none" stroke="#65685f" stroke-width="1.4" stroke-linecap="round"/><polyline points="17.6,10.3 17.8,13.4 19.2,10.2 21,8.7" fill="none" stroke="#c9cbc2" stroke-width="1.0" stroke-linecap="round"/></pattern><clipPath id="c1"><polygon points="66.6,350.5 198.8,350.5 198.8,366 82.7,366 82.7,445.8 66.6,445.8"/></clipPath><clipPath id="c2"><polygon points="441,348.6 617,348.6 617,365.2 441,365.2"/></clipPath><clipPath id="c3"><polygon points="671.6,347.2 691.2,347.2 691.2,260.5 704.7,260.5 704.7,364.5 671.6,364.5"/></clipPath><clipPath id="c4"><polygon points="691.3,115.8 691.3,66.5 845.8,66.5 1172.5,105.4 1172.5,381.2 1156.7,381.2 1156.7,120 845.8,83 706,83 706,115.8"/></clipPath><clipPath id="c5"><polygon points="1156.6,446.1 1172.5,446.1 1169.6,860.5 1016,860.5 1016,845 1154.1,845"/></clipPath><clipPath id="c6"><polygon points="66.7,652 80,652 80,849 197,849 197,865 66.7,865"/></clipPath><clipPath id="c7"><polygon points="300.8,847 569.9,847 569.9,863.2 300.8,863.2"/></clipPath><clipPath id="c8"><polygon points="663.1,845.2 740.6,845.2 740.6,861.3 663.1,861.3"/></clipPath><clipPath id="c9"><polygon points="796.1,844.9 911,844.9 911,860.8 796.1,860.8"/></clipPath></defs><rect x="0" y="0" width="1266" height="930" fill="#ffffff"/>
<polygon points="47,263 592,257 588,0 1188,0 1188,897 62,897 62,880 47,880" fill="#fafafa"/>
<line x1="150" y1="801.5" x2="660" y2="800.5" stroke="#ececec" stroke-width="1.2" stroke-linecap="butt" stroke-dasharray="18 6"/>
<line x1="592" y1="300.8" x2="606" y2="300.8" stroke="#666" stroke-width="1.6" stroke-linecap="butt"/>
<line x1="883" y1="0" x2="898" y2="860" stroke="#e6e9ee" stroke-width="1.6" stroke-linecap="butt"/>
<line x1="588" y1="0" x2="588" y2="264" stroke="#f0f0f0" stroke-width="1" stroke-linecap="butt"/>
<line x1="208" y1="262" x2="221" y2="897" stroke="#a6c9e2" stroke-width="1.4" stroke-linecap="butt"/>
<polygon points="62.7,346.6 202.7,346.6 202.7,376 198,376 198,381.4 97.7,381.4 97.7,449.7 62.7,449.7" fill="#2a2a2a"/>
<polygon points="66.6,350.5 198.8,350.5 198.8,366 82.7,366 82.7,445.8 66.6,445.8" fill="url(#mot)" stroke="#dadbd4" stroke-width="3.6" clip-path="url(#c1)"/>
<polygon points="85.8,370 195,370 195,377.4 92.9,377.4 92.9,443 85.8,443" fill="#ffffff"/>
<rect x="437.1" y="345" width="183.8" height="23.1" fill="#2a2a2a"/>
<rect x="437.1" y="345" width="3.9" height="30.2" fill="#2a2a2a"/>
<rect x="617" y="345" width="3.9" height="30.2" fill="#2a2a2a"/>
<rect x="442.4" y="365.2" width="173.2" height="15.7" fill="#2a2a2a"/>
<polygon points="441,348.6 617,348.6 617,365.2 441,365.2" fill="url(#mot)" stroke="#dadbd4" stroke-width="3.6" clip-path="url(#c2)"/>
<rect x="445.7" y="368.1" width="166.6" height="8.3" fill="#ffffff"/>
<rect x="587.2" y="345" width="1.4" height="36" fill="#f4f4f4"/>
<polygon points="667,343.4 687.4,343.4 687.4,256.3 716.8,256.3 716.8,261.3 721.3,261.3 721.3,379.6 673,379.6 673,375 667,375" fill="#2a2a2a"/>
<polygon points="671.6,347.2 691.2,347.2 691.2,260.5 704.7,260.5 704.7,364.5 671.6,364.5" fill="url(#mot)" stroke="#dadbd4" stroke-width="3.6" clip-path="url(#c3)"/>
<polygon points="709.2,265 717.5,265 717.5,375.8 677,375.8 677,368.3 709.2,368.3" fill="#ffffff"/>
<polygon points="686.6,119.5 686.6,62.1 845.8,62.1 1176.3,101.4 1176.3,385 1146.7,385 1146.7,378.6 1141.7,378.6 1141.7,131.9 845.8,96.9 721.7,96.9 721.7,116 716.5,116 716.5,119.5" fill="#2a2a2a"/>
<polygon points="691.3,115.8 691.3,66.5 845.8,66.5 1172.5,105.4 1172.5,381.2 1156.7,381.2 1156.7,120 845.8,83 706,83 706,115.8" fill="url(#mot)" stroke="#dadbd4" stroke-width="3.6" clip-path="url(#c4)"/>
<polygon points="709.5,114.3 709.5,86.5 845.8,86.5 1153.7,123.1 1153.7,376.7 1146.2,376.7 1146.2,129.1 845.8,93.4 718.2,93.4 718.2,114.3" fill="#ffffff"/>
<polygon points="1146.1,442.1 1175.7,442.1 1173,863.5 1012.8,863.5 1012.8,835 1018.3,835 1018.3,830.5 1139.6,830.5 1141.4,448.3 1146.1,448.3" fill="#2a2a2a"/>
<polygon points="1156.6,446.1 1172.5,446.1 1169.6,860.5 1016,860.5 1016,845 1154.1,845" fill="url(#mot)" stroke="#dadbd4" stroke-width="3.6" clip-path="url(#c5)"/>
<polygon points="1145.6,450.4 1152.6,450.4 1150.6,842 1021.5,842 1021.5,833.6 1143.4,833.6" fill="#ffffff"/>
<polygon points="62.6,648 95,648 95,835 193.8,835 193.8,838 201,838 201,869.3 62.6,869.3" fill="#2a2a2a"/>
<polygon points="66.7,652 80,652 80,849 197,849 197,865 66.7,865" fill="url(#mot)" stroke="#dadbd4" stroke-width="3.6" clip-path="url(#c6)"/>
<polygon points="83.5,653 90.8,653 90.8,838.8 190.8,838.8 190.8,845.5 83.5,845.5" fill="#ffffff"/>
<rect x="296.9" y="844.2" width="276.9" height="23.2" fill="#2a2a2a"/>
<rect x="296.9" y="835.2" width="3.9" height="32.2" fill="#2a2a2a"/>
<rect x="569.9" y="835.2" width="3.9" height="32.2" fill="#2a2a2a"/>
<rect x="303.4" y="832.2" width="263.9" height="14.8" fill="#2a2a2a"/>
<polygon points="300.8,847 569.9,847 569.9,863.2 300.8,863.2" fill="url(#mot)" stroke="#dadbd4" stroke-width="3.6" clip-path="url(#c7)"/>
<rect x="306.4" y="835.6" width="257.9" height="8.6" fill="#ffffff"/>
<rect x="659.2" y="842.7" width="85.3" height="22.5" fill="#2a2a2a"/>
<rect x="659.2" y="833.9" width="3.9" height="31.3" fill="#2a2a2a"/>
<rect x="740.6" y="833.9" width="3.9" height="31.3" fill="#2a2a2a"/>
<rect x="665.7" y="830.9" width="72.3" height="14.3" fill="#2a2a2a"/>
<polygon points="663.1,845.2 740.6,845.2 740.6,861.3 663.1,861.3" fill="url(#mot)" stroke="#dadbd4" stroke-width="3.6" clip-path="url(#c8)"/>
<rect x="668.7" y="834.2" width="66.3" height="8.5" fill="#ffffff"/>
<rect x="792.2" y="842.3" width="122.7" height="22.6" fill="#2a2a2a"/>
<rect x="792.2" y="833.5" width="3.9" height="31.4" fill="#2a2a2a"/>
<rect x="911" y="833.5" width="3.9" height="31.4" fill="#2a2a2a"/>
<rect x="798.7" y="830.5" width="109.7" height="14.4" fill="#2a2a2a"/>
<polygon points="796.1,844.9 911,844.9 911,860.8 796.1,860.8" fill="url(#mot)" stroke="#dadbd4" stroke-width="3.6" clip-path="url(#c9)"/>
<rect x="801.7" y="833.8" width="103.7" height="8.5" fill="#ffffff"/>
<line x1="239" y1="866.6" x2="297" y2="866.6" stroke="#2a2a2a" stroke-width="2.2" stroke-linecap="butt"/>
<line x1="573.5" y1="864.8" x2="659.5" y2="864.8" stroke="#2a2a2a" stroke-width="2.2" stroke-linecap="butt"/>
<line x1="744" y1="864.1" x2="792.5" y2="864.1" stroke="#2a2a2a" stroke-width="2.2" stroke-linecap="butt"/>
<line x1="914.5" y1="863.5" x2="1013" y2="863.5" stroke="#2a2a2a" stroke-width="2.2" stroke-linecap="butt"/>
<line x1="1172" y1="862.3" x2="1215" y2="862.3" stroke="#2a2a2a" stroke-width="2.2" stroke-linecap="butt"/>
<line x1="202.7" y1="377.4" x2="322" y2="377.4" stroke="#3a3a3a" stroke-width="2.2" stroke-linecap="butt"/>
<line x1="318" y1="378.6" x2="437.3" y2="378.6" stroke="#3a3a3a" stroke-width="2.2" stroke-linecap="butt"/>
<line x1="620.9" y1="378.9" x2="667" y2="378.9" stroke="#4a4a4a" stroke-width="2" stroke-linecap="butt"/>
<line x1="95.3" y1="449.7" x2="95.3" y2="547" stroke="#555" stroke-width="1.6" stroke-linecap="butt"/>
<line x1="96" y1="547" x2="96" y2="648" stroke="#555" stroke-width="1.6" stroke-linecap="butt"/>
<line x1="720.8" y1="119.5" x2="720.8" y2="188" stroke="#555" stroke-width="1.5" stroke-linecap="butt"/>
<line x1="719.2" y1="188" x2="719.2" y2="258" stroke="#555" stroke-width="1.5" stroke-linecap="butt"/>
<line x1="719.2" y1="188" x2="721.6" y2="188" stroke="#555" stroke-width="1.2" stroke-linecap="butt"/>
<line x1="1142" y1="385" x2="1142" y2="442" stroke="#777" stroke-width="1.2" stroke-linecap="butt"/>
<line x1="204" y1="833" x2="294" y2="833" stroke="#6a6a6a" stroke-width="1.6" stroke-linecap="butt" stroke-dasharray="14 3 6 3"/>
<line x1="577" y1="831.2" x2="656.2" y2="831.2" stroke="#6a6a6a" stroke-width="1.6" stroke-linecap="butt" stroke-dasharray="14 3 6 3"/>
<line x1="747.5" y1="830.8" x2="789.2" y2="830.8" stroke="#6a6a6a" stroke-width="1.6" stroke-linecap="butt" stroke-dasharray="14 3 6 3"/>
<line x1="918" y1="830.2" x2="1009.8" y2="830.2" stroke="#6a6a6a" stroke-width="1.6" stroke-linecap="butt" stroke-dasharray="14 3 6 3"/>
<line x1="719" y1="371.7" x2="806.5" y2="371.7" stroke="#2a2a2a" stroke-width="3" stroke-linecap="butt"/>
<line x1="881.5" y1="371.7" x2="1144" y2="371.7" stroke="#2a2a2a" stroke-width="3" stroke-linecap="butt"/>
<line x1="719" y1="377.4" x2="806.5" y2="377.4" stroke="#2a2a2a" stroke-width="3" stroke-linecap="butt"/>
<line x1="881.5" y1="377.4" x2="1144" y2="377.4" stroke="#2a2a2a" stroke-width="3" stroke-linecap="butt"/>
<rect x="919.8" y="377" width="6.2" height="6" fill="#444"/>
<line x1="695.9" y1="399.6" x2="695.9" y2="490.5" stroke="#2a2a2a" stroke-width="3.8" stroke-linecap="butt"/>
<polyline points="703.3,544.3 703.3,469.5 834,469.5 834,530" fill="none" stroke="#2a2a2a" stroke-width="2.4"/>
<polyline points="708.3,471 708.3,538.8 763.7,538.8" fill="none" stroke="#2a2a2a" stroke-width="2.4"/>
<line x1="703.3" y1="544.3" x2="764.9" y2="544.3" stroke="#2a2a2a" stroke-width="2.4" stroke-linecap="butt"/>
<line x1="829.5" y1="471" x2="829.5" y2="530" stroke="#2a2a2a" stroke-width="2.4" stroke-linecap="butt"/>
<circle cx="740.6" cy="505" r="30.2" fill="none" stroke="#2a2a2a" stroke-width="2"/>
<line x1="763.6" y1="529.9" x2="763.6" y2="651.3" stroke="#2a2a2a" stroke-width="2.4" stroke-linecap="butt"/>
<line x1="768.2" y1="534.6" x2="768.2" y2="651" stroke="#2a2a2a" stroke-width="2.4" stroke-linecap="butt"/>
<line x1="763.6" y1="529.9" x2="838.4" y2="529.9" stroke="#2a2a2a" stroke-width="2.4" stroke-linecap="butt"/>
<line x1="768.2" y1="534.6" x2="838" y2="534.6" stroke="#2a2a2a" stroke-width="2.4" stroke-linecap="butt"/>
<line x1="827.2" y1="534.6" x2="827.2" y2="589.5" stroke="#333" stroke-width="1.5" stroke-linecap="butt"/>
<line x1="830.8" y1="589" x2="830.8" y2="651" stroke="#333" stroke-width="1.5" stroke-linecap="butt"/>
<line x1="824" y1="589" x2="834" y2="589" stroke="#333" stroke-width="1.2" stroke-linecap="butt"/>
<line x1="681.4" y1="651.2" x2="832.8" y2="651.2" stroke="#2a2a2a" stroke-width="2.5" stroke-linecap="butt"/>
<line x1="686.4" y1="656.4" x2="828.5" y2="656.4" stroke="#2a2a2a" stroke-width="2.5" stroke-linecap="butt"/>
<line x1="682.7" y1="650" x2="682.7" y2="662" stroke="#2a2a2a" stroke-width="2.5" stroke-linecap="butt"/>
<line x1="687.4" y1="655.4" x2="687.4" y2="662" stroke="#2a2a2a" stroke-width="2" stroke-linecap="butt"/>
<line x1="832.1" y1="650" x2="832.1" y2="831" stroke="#2a2a2a" stroke-width="2.6" stroke-linecap="butt"/>
<line x1="827.7" y1="655.4" x2="827.7" y2="831" stroke="#2a2a2a" stroke-width="2.6" stroke-linecap="butt"/>
<line x1="770" y1="660.6" x2="770" y2="741.7" stroke="#2a2a2a" stroke-width="2.2" stroke-linecap="butt"/>
<line x1="760.3" y1="742.4" x2="828" y2="742.4" stroke="#2a2a2a" stroke-width="2.4" stroke-linecap="butt"/>
<line x1="760.3" y1="747.4" x2="828" y2="747.4" stroke="#2a2a2a" stroke-width="2.4" stroke-linecap="butt"/>
<line x1="761.4" y1="741.2" x2="761.4" y2="748.6" stroke="#2a2a2a" stroke-width="2.2" stroke-linecap="butt"/>
<line x1="706.3" y1="755.2" x2="781.6" y2="755.2" stroke="#2e2e2e" stroke-width="4" stroke-linecap="butt"/>
<line x1="681.9" y1="739.5" x2="681.9" y2="831" stroke="#2a2a2a" stroke-width="2.4" stroke-linecap="butt"/>
<line x1="687" y1="739.5" x2="687" y2="831" stroke="#2a2a2a" stroke-width="2.4" stroke-linecap="butt"/>
<line x1="681" y1="739.5" x2="688" y2="739.5" stroke="#2a2a2a" stroke-width="1.5" stroke-linecap="butt"/>
<line x1="920.8" y1="463.1" x2="920.8" y2="529" stroke="#2a2a2a" stroke-width="2.2" stroke-linecap="butt"/>
<line x1="925.6" y1="463.1" x2="925.6" y2="529" stroke="#2a2a2a" stroke-width="2.3" stroke-linecap="butt"/>
<line x1="919.8" y1="464" x2="926.6" y2="464" stroke="#2a2a2a" stroke-width="2" stroke-linecap="butt"/>
<line x1="926" y1="528.9" x2="1140" y2="528.9" stroke="#2a2a2a" stroke-width="2.2" stroke-linecap="butt"/>
<line x1="915" y1="533.3" x2="1141" y2="533.3" stroke="#2a2a2a" stroke-width="2.6" stroke-linecap="butt"/>
<rect x="911" y="528" width="4" height="7" fill="#444"/>
<line x1="1058.4" y1="448.3" x2="1058.4" y2="529" stroke="#2a2a2a" stroke-width="2.2" stroke-linecap="butt"/>
<line x1="1062.7" y1="448.3" x2="1062.7" y2="529" stroke="#2a2a2a" stroke-width="2.4" stroke-linecap="butt"/>
<line x1="1057.4" y1="449" x2="1063.8" y2="449" stroke="#2a2a2a" stroke-width="2" stroke-linecap="butt"/>
<rect x="1068" y="453.6" width="71.4" height="71" rx="6" fill="none" stroke="#333" stroke-width="1.5"/>
<line x1="929.8" y1="476.3" x2="1054" y2="476.3" stroke="#555" stroke-width="1.6" stroke-linecap="butt" stroke-dasharray="9 3 4 3"/>
<line x1="929" y1="525.3" x2="1054" y2="525.3" stroke="#bbb" stroke-width="1" stroke-linecap="butt" stroke-dasharray="6 4"/>
<ellipse cx="991" cy="501.8" rx="29.5" ry="19.8" fill="none" stroke="#8a8a8a" stroke-width="1.6" stroke-dasharray="7 2"/>
<path d="M806 779 C790 772 770 772 765 788 C761 803 776 813 792 812 C800 811 804 810 806 808" fill="none" stroke="#333" stroke-width="1.5"/>
<rect x="808" y="771" width="16.5" height="44" rx="6" fill="none" stroke="#444" stroke-width="1.4"/>
<line x1="155.6" y1="381" x2="155.6" y2="776" stroke="#2e2e2e" stroke-width="2" stroke-linecap="butt"/>
<rect x="99.5" y="679" width="50.5" height="58" rx="3" fill="none" stroke="#d6d6d6" stroke-width="1.4"/>
<circle cx="112" cy="697" r="7" fill="none" stroke="#d6d6d6" stroke-width="1.3"/>
<circle cx="136" cy="696" r="6" fill="none" stroke="#d6d6d6" stroke-width="1.3"/>
<circle cx="112" cy="724" r="8" fill="none" stroke="#d6d6d6" stroke-width="1.3"/>
<circle cx="137" cy="724" r="8" fill="none" stroke="#d6d6d6" stroke-width="1.3"/>
<rect x="98" y="776" width="52" height="53" fill="none" stroke="#e6e6e6" stroke-width="1.2"/>
<path d="M816.4 297.7 A75 75 0 0 1 881 369.4" fill="none" stroke="#4a4a4a" stroke-width="1.5" stroke-dasharray="10 6"/>
<line x1="806.2" y1="295" x2="806.2" y2="379" stroke="#888" stroke-width="1.2" stroke-linecap="butt"/>
<path d="M999 384.8 A79 79 0 0 1 922.8 461" fill="none" stroke="#4a4a4a" stroke-width="1.5" stroke-dasharray="10 6"/>
<line x1="921" y1="384.5" x2="998" y2="384.5" stroke="#999" stroke-width="1" stroke-linecap="butt"/>
<path d="M913 537.6 A75 75 0 0 1 843.2 609.8" fill="none" stroke="#4a4a4a" stroke-width="1.5" stroke-dasharray="10 6"/>
<line x1="838.5" y1="536" x2="838.5" y2="614" stroke="#999" stroke-width="1" stroke-linecap="butt"/>
<path d="M758.3 672.5 A78 78 0 0 1 684.2 737" fill="none" stroke="#4a4a4a" stroke-width="1.5" stroke-dasharray="10 6"/>
<line x1="681" y1="663" x2="764" y2="661" stroke="#aaa" stroke-width="1" stroke-linecap="butt"/>
<line x1="54.2" y1="314.2" x2="75.5" y2="293.7" stroke="#222" stroke-width="2.2" stroke-linecap="butt"/>
<line x1="192.4" y1="312.7" x2="212.2" y2="292.9" stroke="#222" stroke-width="2.2" stroke-linecap="butt"/>
<line x1="213" y1="337" x2="233.5" y2="357.7" stroke="#222" stroke-width="2.2" stroke-linecap="butt"/>
<line x1="213" y1="369.5" x2="233.5" y2="390.9" stroke="#222" stroke-width="2.2" stroke-linecap="butt"/>
<line x1="427.8" y1="312.6" x2="449" y2="291.3" stroke="#222" stroke-width="2.2" stroke-linecap="butt"/>
<line x1="610" y1="310.5" x2="630.5" y2="291.3" stroke="#222" stroke-width="2.2" stroke-linecap="butt"/>
<line x1="657" y1="309.5" x2="679" y2="289.5" stroke="#222" stroke-width="2.2" stroke-linecap="butt"/>
<line x1="677.4" y1="310.3" x2="688.8" y2="301" stroke="#222" stroke-width="2.2" stroke-linecap="butt"/>
<line x1="654" y1="335" x2="665.6" y2="349" stroke="#222" stroke-width="2.2" stroke-linecap="butt"/>
<line x1="678.5" y1="341.8" x2="687.2" y2="333" stroke="#222" stroke-width="2.2" stroke-linecap="butt"/>
<line x1="711.5" y1="342" x2="718.3" y2="336" stroke="#222" stroke-width="2.2" stroke-linecap="butt"/>
<line x1="723.5" y1="329" x2="730.5" y2="322.3" stroke="#222" stroke-width="2.2" stroke-linecap="butt"/>
<line x1="746.5" y1="361" x2="755.5" y2="369.3" stroke="#222" stroke-width="2.2" stroke-linecap="butt"/>
<line x1="764.5" y1="379" x2="767.5" y2="382" stroke="#222" stroke-width="2.2" stroke-linecap="butt"/>
<line x1="653.6" y1="246.5" x2="673.5" y2="266.5" stroke="#222" stroke-width="2.2" stroke-linecap="butt"/>
<line x1="679.6" y1="256.2" x2="698" y2="237.6" stroke="#222" stroke-width="2.2" stroke-linecap="butt"/>
<line x1="677.4" y1="50.8" x2="697.3" y2="30.9" stroke="#222" stroke-width="2.2" stroke-linecap="butt"/>
<line x1="653" y1="53.4" x2="673" y2="74.3" stroke="#222" stroke-width="2.2" stroke-linecap="butt"/>
<line x1="653" y1="110" x2="673" y2="129" stroke="#222" stroke-width="2.2" stroke-linecap="butt"/>
<line x1="709.5" y1="132.5" x2="731.2" y2="112.5" stroke="#222" stroke-width="2.2" stroke-linecap="butt"/>
<line x1="761.6" y1="100.4" x2="768.6" y2="106.4" stroke="#222" stroke-width="2.2" stroke-linecap="butt"/>
<line x1="834.6" y1="50.8" x2="858" y2="30.9" stroke="#222" stroke-width="2.2" stroke-linecap="butt"/>
<line x1="829.4" y1="131.6" x2="852.9" y2="112.5" stroke="#222" stroke-width="2.2" stroke-linecap="butt"/>
<line x1="1166.5" y1="87.8" x2="1186" y2="72.8" stroke="#222" stroke-width="2.2" stroke-linecap="butt"/>
<line x1="1108.6" y1="131.5" x2="1119" y2="142" stroke="#222" stroke-width="2.2" stroke-linecap="butt"/>
<line x1="1129.7" y1="163.8" x2="1150.7" y2="146.5" stroke="#222" stroke-width="2.2" stroke-linecap="butt"/>
<line x1="1097.4" y1="360.3" x2="1107" y2="371" stroke="#222" stroke-width="2.2" stroke-linecap="butt"/>
<line x1="1107.5" y1="378" x2="1117.5" y2="388.6" stroke="#222" stroke-width="2.2" stroke-linecap="butt"/>
<line x1="1133" y1="342" x2="1140.3" y2="333.8" stroke="#222" stroke-width="2.2" stroke-linecap="butt"/>
<line x1="1177.8" y1="327.4" x2="1185" y2="321" stroke="#222" stroke-width="2.2" stroke-linecap="butt"/>
<line x1="1129.8" y1="809.4" x2="1145.7" y2="792" stroke="#222" stroke-width="2.2" stroke-linecap="butt"/>
<line x1="1170.3" y1="799.3" x2="1183.3" y2="789.1" stroke="#222" stroke-width="2.2" stroke-linecap="butt"/>
<line x1="1093.7" y1="821" x2="1103.8" y2="831" stroke="#222" stroke-width="2.2" stroke-linecap="butt"/>
<line x1="1105.3" y1="865.8" x2="1114" y2="873" stroke="#222" stroke-width="2.2" stroke-linecap="butt"/>
<line x1="1223.8" y1="851.3" x2="1229.6" y2="858.5" stroke="#222" stroke-width="2.2" stroke-linecap="butt"/>
<line x1="1097" y1="517.7" x2="1106.1" y2="528" stroke="#222" stroke-width="2.2" stroke-linecap="butt"/>
<line x1="1107.3" y1="533.8" x2="1116.4" y2="545.2" stroke="#222" stroke-width="2.2" stroke-linecap="butt"/>
<line x1="1107.3" y1="374.6" x2="1116.4" y2="388.3" stroke="#222" stroke-width="2.2" stroke-linecap="butt"/>
<line x1="211" y1="826" x2="230" y2="843" stroke="#222" stroke-width="2.2" stroke-linecap="butt"/>
<line x1="211" y1="857" x2="229" y2="878" stroke="#222" stroke-width="2.2" stroke-linecap="butt"/>
<line x1="85" y1="811.3" x2="103.9" y2="793.8" stroke="#222" stroke-width="2.2" stroke-linecap="butt"/>
<line x1="669.7" y1="810.9" x2="679.3" y2="801.2" stroke="#222" stroke-width="2.2" stroke-linecap="butt"/>
<line x1="688" y1="799" x2="697.6" y2="790.4" stroke="#222" stroke-width="2.2" stroke-linecap="butt"/>
<line x1="816.9" y1="809.8" x2="825.5" y2="802.3" stroke="#222" stroke-width="2.2" stroke-linecap="butt"/>
<text x="121.4" y="301.3" font-family="&quot;Liberation Serif&quot;, serif" font-size="18" font-weight="bold" font-style="normal" text-anchor="start" fill="#1c1c1c" xml:space="preserve">140</text>
<text x="306.9" y="299.9" font-family="&quot;Liberation Serif&quot;, serif" font-size="18" font-weight="bold" font-style="normal" text-anchor="start" fill="#1c1c1c" xml:space="preserve">240</text>
<text x="306.9" y="317.3" font-family="&quot;Liberation Serif&quot;, serif" font-size="18" font-weight="bold" font-style="normal" text-anchor="start" fill="#1c1c1c" xml:space="preserve">215</text>
<text x="518.5" y="298.8" font-family="&quot;Liberation Serif&quot;, serif" font-size="18" font-weight="bold" font-style="normal" text-anchor="start" fill="#1c1c1c" xml:space="preserve">186</text>
<text x="635.8" y="298.8" font-family="&quot;Liberation Serif&quot;, serif" font-size="18" font-weight="bold" font-style="normal" text-anchor="start" fill="#1c1c1c" xml:space="preserve">50</text>
<text x="633.7" y="316.5" font-family="&quot;Liberation Serif&quot;, serif" font-size="18" font-weight="bold" font-style="normal" text-anchor="start" fill="#1c1c1c" xml:space="preserve">150</text>
<text x="667.8" y="298.8" font-family="&quot;Liberation Serif&quot;, serif" font-size="18" font-weight="bold" font-style="normal" text-anchor="start" fill="#1c1c1c" xml:space="preserve">20</text>
<text x="632" y="366" font-family="&quot;Liberation Serif&quot;, serif" font-size="15.5" font-weight="bold" font-style="normal" text-anchor="start" fill="#1c1c1c" transform="translate(632 366) scale(0.850 1) translate(-632 -366)" xml:space="preserve">Fixe</text>
<text x="244.4" y="370.2" font-family="&quot;Liberation Serif&quot;, serif" font-size="18" font-weight="bold" font-style="normal" text-anchor="start" fill="#1c1c1c" transform="translate(244.4 370.2) scale(0.935 1) translate(-244.4 -370.2)" xml:space="preserve">Coulissant 2 vtx</text>
<text x="753" y="37.8" font-family="&quot;Liberation Serif&quot;, serif" font-size="18" font-weight="bold" font-style="normal" text-anchor="start" fill="#1c1c1c" xml:space="preserve">159</text>
<text x="780" y="32" font-family="&quot;Liberation Serif&quot;, serif" font-size="9" font-weight="bold" font-style="normal" text-anchor="start" fill="#1c1c1c" xml:space="preserve">5</text>
<text x="1000" y="55" font-family="&quot;Liberation Serif&quot;, serif" font-size="18" font-weight="bold" font-style="normal" text-anchor="start" fill="#1c1c1c" xml:space="preserve">339</text>
<text x="768.6" y="120.3" font-family="&quot;Liberation Serif&quot;, serif" font-size="18" font-weight="bold" font-style="normal" text-anchor="start" fill="#1c1c1c" xml:space="preserve">124</text>
<text x="795" y="114" font-family="&quot;Liberation Serif&quot;, serif" font-size="9" font-weight="bold" font-style="normal" text-anchor="start" fill="#1c1c1c" xml:space="preserve">5</text>
<text x="974.2" y="134.5" font-family="&quot;Liberation Serif&quot;, serif" font-size="18" font-weight="bold" font-style="normal" text-anchor="start" fill="#1c1c1c" xml:space="preserve">307</text>
<text x="1002" y="128" font-family="&quot;Liberation Serif&quot;, serif" font-size="9" font-weight="bold" font-style="normal" text-anchor="start" fill="#1c1c1c" xml:space="preserve">2</text>
<text x="732.9" y="330.8" font-family="&quot;Liberation Serif&quot;, serif" font-size="18" font-weight="bold" font-style="normal" text-anchor="start" fill="#1c1c1c" xml:space="preserve">33</text>
<text x="918.7" y="330.8" font-family="&quot;Liberation Serif&quot;, serif" font-size="18" font-weight="bold" font-style="normal" text-anchor="start" fill="#1c1c1c" xml:space="preserve">430</text>
<text x="1114.7" y="330" font-family="&quot;Liberation Sans&quot;, sans-serif" font-size="17" font-weight="normal" font-style="normal" text-anchor="start" fill="#1c1c1c" xml:space="preserve">33</text>
<text x="371.8" y="801.6" font-family="&quot;Liberation Serif&quot;, serif" font-size="18" font-weight="bold" font-style="normal" text-anchor="start" fill="#1c1c1c" xml:space="preserve">597</text>
<text x="399.6" y="793.5" font-family="&quot;Liberation Serif&quot;, serif" font-size="9.5" font-weight="bold" font-style="normal" text-anchor="start" fill="#1c1c1c" xml:space="preserve">5</text>
<text x="970.7" y="797.7" font-family="&quot;Liberation Serif&quot;, serif" font-size="18" font-weight="bold" font-style="normal" text-anchor="start" fill="#1c1c1c" xml:space="preserve">314</text>
<text x="1112" y="797.7" font-family="&quot;Liberation Serif&quot;, serif" font-size="18" font-weight="bold" font-style="normal" text-anchor="start" fill="#1c1c1c" xml:space="preserve">33</text>
<text x="739.5" y="815" font-family="&quot;Liberation Serif&quot;, serif" font-size="18" font-weight="bold" font-style="normal" text-anchor="start" fill="#1c1c1c" transform="translate(739.5 815) scale(0.950 1) translate(-739.5 -815)" xml:space="preserve">140</text>
<text x="665.4" y="799" font-family="&quot;Liberation Serif&quot;, serif" font-size="18" font-weight="bold" font-style="normal" text-anchor="start" fill="#1c1c1c" xml:space="preserve">7</text>
<text x="674.5" y="792" font-family="&quot;Liberation Serif&quot;, serif" font-size="9" font-weight="bold" font-style="normal" text-anchor="start" fill="#1c1c1c" xml:space="preserve">5</text>
<text x="834" y="798" font-family="&quot;Liberation Serif&quot;, serif" font-size="18" font-weight="bold" font-style="normal" text-anchor="start" fill="#1c1c1c" xml:space="preserve">7</text>
<text x="843" y="791" font-family="&quot;Liberation Serif&quot;, serif" font-size="9" font-weight="bold" font-style="normal" text-anchor="start" fill="#1c1c1c" xml:space="preserve">5</text>
<text x="722.8" y="508.6" font-family="&quot;Liberation Serif&quot;, serif" font-size="17" font-weight="bold" font-style="normal" text-anchor="start" fill="#1c1c1c" transform="translate(722.8 508.6) scale(0.930 1) translate(-722.8 -508.6)" xml:space="preserve">BEC</text>
<text x="663.5" y="104.7" font-family="&quot;Liberation Serif&quot;, serif" font-size="18" font-weight="bold" font-style="normal" text-anchor="start" fill="#1c1c1c" transform="rotate(-90 663.5 104.7)" xml:space="preserve">56</text>
<text x="663" y="282" font-family="&quot;Liberation Serif&quot;, serif" font-size="18" font-weight="bold" font-style="normal" text-anchor="start" fill="#1c1c1c" transform="rotate(-90 663 282)" xml:space="preserve">90</text>
<text x="661" y="202" font-family="&quot;Liberation Serif&quot;, serif" font-size="18" font-weight="bold" font-style="normal" text-anchor="start" fill="#1c1c1c" transform="rotate(-90 661 202)" xml:space="preserve">140</text>
<text x="679.3" y="202" font-family="&quot;Liberation Serif&quot;, serif" font-size="18" font-weight="bold" font-style="normal" text-anchor="start" fill="#1c1c1c" transform="rotate(-90 679.3 202)" xml:space="preserve">215</text>
<text x="756.5" y="250" font-family="&quot;Liberation Serif&quot;, serif" font-size="18" font-weight="bold" font-style="normal" text-anchor="start" fill="#1c1c1c" transform="rotate(-90 756.5 250)" xml:space="preserve">278</text>
<text x="750" y="223" font-family="&quot;Liberation Serif&quot;, serif" font-size="11" font-weight="bold" font-style="normal" text-anchor="start" fill="#1c1c1c" transform="rotate(-90 750 223)" xml:space="preserve">5</text>
<text x="1106.8" y="264.8" font-family="&quot;Liberation Sans&quot;, sans-serif" font-size="17" font-weight="normal" font-style="normal" text-anchor="start" fill="#1c1c1c" transform="rotate(-90 1106.8 264.8)" xml:space="preserve">242</text>
<text x="1105.5" y="404.5" font-family="&quot;Liberation Serif&quot;, serif" font-size="18" font-weight="bold" font-style="normal" text-anchor="start" fill="#1c1c1c" transform="rotate(-90 1105.5 404.5)" xml:space="preserve">7</text>
<text x="1099" y="395.8" font-family="&quot;Liberation Serif&quot;, serif" font-size="12" font-weight="bold" font-style="normal" text-anchor="start" fill="#1c1c1c" transform="rotate(-90 1099 395.8)" xml:space="preserve">3</text>
<text x="1105" y="475.5" font-family="&quot;Liberation Serif&quot;, serif" font-size="18" font-weight="bold" font-style="normal" text-anchor="start" fill="#1c1c1c" transform="rotate(-90 1105 475.5)" xml:space="preserve">150</text>
<text x="1104" y="561" font-family="&quot;Liberation Serif&quot;, serif" font-size="18" font-weight="bold" font-style="normal" text-anchor="start" fill="#1c1c1c" transform="rotate(-90 1104 561)" xml:space="preserve">7</text>
<text x="1099.5" y="552" font-family="&quot;Liberation Serif&quot;, serif" font-size="12" font-weight="bold" font-style="normal" text-anchor="start" fill="#1c1c1c" transform="rotate(-90 1099.5 552)" xml:space="preserve">3</text>
<text x="1102" y="705.3" font-family="&quot;Liberation Serif&quot;, serif" font-size="18" font-weight="bold" font-style="normal" text-anchor="start" fill="#1c1c1c" transform="rotate(-90 1102 705.3)" xml:space="preserve">299</text>
<text x="221" y="411" font-family="&quot;Liberation Sans&quot;, sans-serif" font-size="17.5" font-weight="normal" font-style="normal" text-anchor="start" fill="#1c1c1c" stroke="#1c1c1c" stroke-width="0.3" transform="rotate(-90 221 411)" xml:space="preserve">33</text>
<text x="220" y="637" font-family="&quot;Liberation Serif&quot;, serif" font-size="18" font-weight="bold" font-style="normal" text-anchor="start" fill="#1c1c1c" transform="rotate(-90 220 637)" xml:space="preserve">456</text>
<text x="213.8" y="608" font-family="&quot;Liberation Serif&quot;, serif" font-size="12" font-weight="bold" font-style="normal" text-anchor="start" fill="#1c1c1c" transform="rotate(-90 213.8 608)" xml:space="preserve">3</text>
<text x="218.7" y="895.5" font-family="&quot;Liberation Sans&quot;, sans-serif" font-size="17.5" font-weight="normal" font-style="normal" text-anchor="start" fill="#1c1c1c" stroke="#1c1c1c" stroke-width="0.3" transform="rotate(-90 218.7 895.5)" xml:space="preserve">33</text>
<text x="81.5" y="644.4" font-family="&quot;Liberation Serif&quot;, serif" font-size="17.5" font-weight="bold" font-style="normal" text-anchor="start" fill="#1c1c1c" transform="rotate(-90 81.5 644.4)" xml:space="preserve">Chassis style atelier</text>
<text x="540.8" y="888" font-family="&quot;Liberation Sans&quot;, sans-serif" font-size="22" font-weight="normal" font-style="normal" text-anchor="start" fill="#1c1c1c" transform="rotate(-90 540.8 888)" xml:space="preserve">B</text>
<text x="120.5" y="787.8" font-family="&quot;Liberation Serif&quot;, serif" font-size="14" font-weight="bold" font-style="normal" text-anchor="start" fill="#1c1c1c" letter-spacing="2.2" transform="rotate(90 120.5 787.8)" xml:space="preserve">frigo</text>
<text x="904.8" y="201.3" font-family="&quot;Liberation Sans&quot;, sans-serif" font-size="15" font-weight="normal" font-style="normal" text-anchor="start" fill="#1c1c1c" stroke="#1c1c1c" stroke-width="0.5" xml:space="preserve">Chambre 1</text>
<text x="904.5" y="213.5" font-family="&quot;Liberation Sans&quot;, sans-serif" font-size="10" font-weight="bold" font-style="normal" text-anchor="start" fill="#1c1c1c" xml:space="preserve">S.: 11,51 m2</text>
<text x="798.4" y="443.7" font-family="&quot;Liberation Sans&quot;, sans-serif" font-size="15" font-weight="normal" font-style="normal" text-anchor="start" fill="#1c1c1c" stroke="#1c1c1c" stroke-width="0.5" transform="translate(798.4 443.7) scale(1.020 1) translate(-798.4 -443.7)" xml:space="preserve">Dégagement</text>
<text x="798.1" y="457" font-family="&quot;Liberation Sans&quot;, sans-serif" font-size="10" font-weight="bold" font-style="normal" text-anchor="start" fill="#1c1c1c" xml:space="preserve">S.:  3,20 m2</text>
<text x="990.5" y="438.7" font-family="&quot;Liberation Sans&quot;, sans-serif" font-size="14.4" font-weight="normal" font-style="normal" text-anchor="start" fill="#1c1c1c" stroke="#1c1c1c" stroke-width="0.5" xml:space="preserve">SDE</text>
<text x="990.2" y="451.3" font-family="&quot;Liberation Sans&quot;, sans-serif" font-size="10" font-weight="bold" font-style="normal" text-anchor="start" fill="#1c1c1c" xml:space="preserve">S.:  3,24 m2</text>
<text x="455.8" y="615.9" font-family="&quot;Liberation Sans&quot;, sans-serif" font-size="16" font-weight="normal" font-style="normal" text-anchor="start" fill="#1c1c1c" stroke="#1c1c1c" stroke-width="0.5" xml:space="preserve">Séjour / Cuisine</text>
<text x="455.5" y="629.2" font-family="&quot;Liberation Sans&quot;, sans-serif" font-size="10.2" font-weight="bold" font-style="normal" text-anchor="start" fill="#1c1c1c" xml:space="preserve">S.: 28,48 m2</text>
<text x="739.4" y="704.3" font-family="&quot;Liberation Sans&quot;, sans-serif" font-size="15" font-weight="normal" font-style="normal" text-anchor="start" fill="#1c1c1c" stroke="#1c1c1c" stroke-width="0.5" xml:space="preserve">Sas</text>
<text x="739.1" y="716.8" font-family="&quot;Liberation Sans&quot;, sans-serif" font-size="10" font-weight="bold" font-style="normal" text-anchor="start" fill="#1c1c1c" xml:space="preserve">S.:  1,19 m2</text>
<text x="733" y="774.3" font-family="&quot;Liberation Sans&quot;, sans-serif" font-size="14" font-weight="normal" font-style="normal" text-anchor="start" fill="#1c1c1c" stroke="#1c1c1c" stroke-width="0.5" xml:space="preserve">WC</text>
<text x="732.7" y="787.2" font-family="&quot;Liberation Sans&quot;, sans-serif" font-size="10" font-weight="bold" font-style="normal" text-anchor="start" fill="#1c1c1c" xml:space="preserve">S.:  1,10 m2</text>
<text x="940.9" y="690.3" font-family="&quot;Liberation Sans&quot;, sans-serif" font-size="15.6" font-weight="normal" font-style="normal" text-anchor="start" fill="#1c1c1c" stroke="#1c1c1c" stroke-width="0.5" xml:space="preserve">Chambre 2</text>
<text x="940.6" y="703" font-family="&quot;Liberation Sans&quot;, sans-serif" font-size="10" font-weight="bold" font-style="normal" text-anchor="start" fill="#1c1c1c" xml:space="preserve">S.: 10,15 m2</text>
<text x="690" y="674.1" font-family="&quot;Liberation Sans&quot;, sans-serif" font-size="13" font-weight="normal" font-style="italic" text-anchor="start" fill="#1c1c1c" xml:space="preserve">PP: 73 X 204</text>
<text x="928.6" y="397.8" font-family="&quot;Liberation Sans&quot;, sans-serif" font-size="13" font-weight="normal" font-style="italic" text-anchor="start" fill="#1c1c1c" xml:space="preserve">PP: 73 x 204</text>
<text x="818.6" y="370" font-family="&quot;Liberation Sans&quot;, sans-serif" font-size="13" font-weight="normal" font-style="italic" text-anchor="start" fill="#1c1c1c" transform="rotate(-90 818.6 370)" xml:space="preserve">PP: 73 X 204</text>
<text x="850.5" y="614" font-family="&quot;Liberation Sans&quot;, sans-serif" font-size="13" font-weight="normal" font-style="italic" text-anchor="start" fill="#1c1c1c" transform="rotate(-90 850.5 614)" xml:space="preserve">PP: 73 X 204</text>
<path d="M937.5 274 C939 270 942 267 946 267.5 C944 269.5 946 271 949 272.5 C946 273 943 272 941 272.5 C940 274 939 275 937.5 274 Z" fill="#555"/>
<circle cx="450.5" cy="451" r="1.1" fill="#999"/>
<path d="M1188 140.5 A5 7.5 0 0 0 1188 155.6 Z" fill="#222"/></svg>
</body></html>
